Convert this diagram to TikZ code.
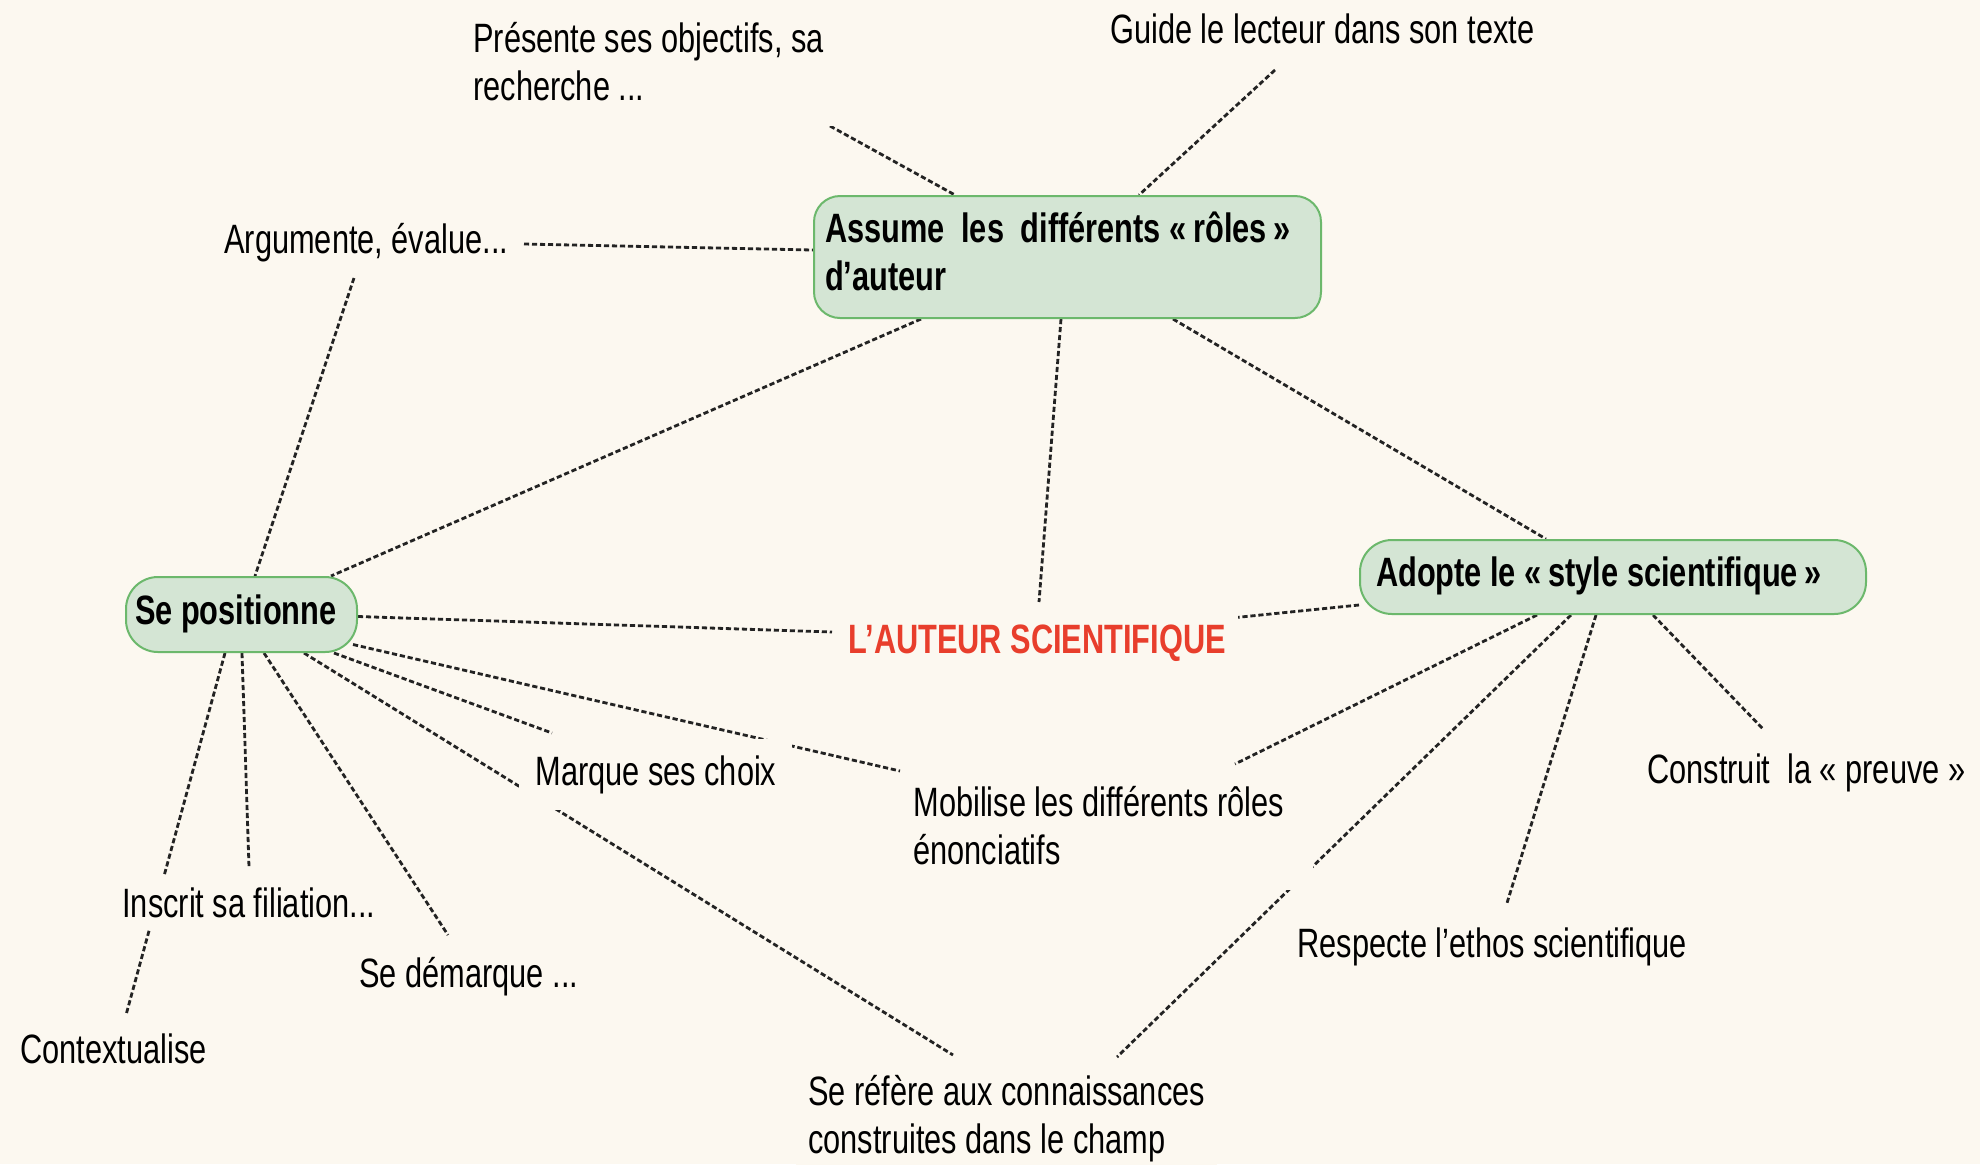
\documentclass[tikz,border=0pt]{standalone}
\usepackage{fontspec}
\setmainfont{Liberation Sans}[FakeStretch=0.75]
\usetikzlibrary{backgrounds}
\definecolor{bgc}{RGB}{252,248,240}
\definecolor{boxfill}{RGB}{212,229,212}
\definecolor{boxdraw}{RGB}{108,184,108}
\definecolor{titlered}{RGB}{232,62,44}
\definecolor{linec}{RGB}{35,35,35}
\newcommand\twolines[2]{\begin{tabular}[t]{@{}l@{}}#1\\#2\end{tabular}}
\begin{document}
\begin{tikzpicture}[x=0.5pt,y=-0.5pt,
  every node/.style={font=\fontsize{20.5}{24}\selectfont},
  box/.style={draw=boxdraw, fill=boxfill, line width=1pt, inner ysep=0pt,
    font=\fontsize{20.5}{24}\selectfont\bfseries},
  lbl/.style={fill=bgc, inner sep=6pt, anchor=base west},
  conn/.style={draw=linec, line width=1.4pt, dash pattern=on 2.6pt off 1.4pt}]
\useasboundingbox (0,0) rectangle (1980,1164);

% main boxes
\node[box, minimum width=253.5pt, minimum height=61pt, inner xsep=5.5pt, rounded corners=13pt]
  (assume) at (1067.5,257) {\makebox[242.5pt][l]{\twolines{Assume\hspace{0.2em} les\hspace{0.2em} différents «\,rôles\,»}{d'auteur}}};
\node[box, minimum width=115.5pt, minimum height=37.5pt, inner xsep=4.5pt, rounded corners=16pt]
  (pos) at (241.5,614.5) {\makebox[106.5pt][l]{\strut Se positionne}};
\node[box, minimum width=253pt, minimum height=37pt, inner xsep=8pt, rounded corners=16pt]
  (adopte) at (1613,577) {\makebox[237pt][l]{\strut Adopte le «\,style scientifique\,»}};

% centre title
\node[lbl, text=titlered, font=\fontsize{20.5}{24}\selectfont\bfseries] (auteur) at (836,653) {L'AUTEUR SCIENTIFIQUE};

% labels
\node[lbl] (presente) at (461,52) {\twolines{Présente ses objectifs, sa}{recherche ...}};
\node[lbl] (guide) at (1098,43) {Guide le lecteur dans son texte};
\node[lbl] (argumente) at (212,253) {Argumente, évalue...};
\node[lbl, inner sep=8pt] (marque) at (519,785) {Marque ses choix};
\node[lbl] (mobilise) at (901,816) {\makebox[194pt][l]{\twolines{Mobilise les différents rôles}{énonciatifs}}};
\node[lbl] (construit) at (1635,783) {Construit\ \ la « preuve »};
\node[lbl] (inscrit) at (110,917) {Inscrit sa filiation...};
\node[lbl] (demarque) at (347,987) {Se démarque ...};
\node[lbl] (context) at (8,1063) {Contextualise};
\node[lbl] (respecte) at (1285,957) {Respecte l'ethos scientifique};
\node[lbl] (refere) at (796,1105) {\twolines{Se réfère aux connaissances}{construites dans le champ}};

% free ends of connectors
\coordinate (pres-c) at (830,126);
\coordinate (guide-c) at (1275,70);
\coordinate (arg-c1) at (524,244);
\coordinate (arg-c2) at (354,278);
\coordinate (aut-n) at (1039,602);
\coordinate (aut-w) at (832,632);
\coordinate (aut-e) at (1231,618);
\coordinate (marque-c) at (552,733);
\coordinate (mob-c1) at (900,771);
\coordinate (mob-c2) at (1235,764);
\coordinate (ref-c1) at (953,1055);
\coordinate (ref-c2) at (1117,1057);
\coordinate (dem-c) at (448,935);
\coordinate (ins-c) at (249,867);
\coordinate (ctx-c) at (126,1015);
\coordinate (resp-c) at (1507,903);
\coordinate (cons-c) at (1764,730);

\begin{scope}[on background layer]
\fill[bgc] (0,0) rectangle (1980,1164);
% around "Assume"
\draw[conn] (pres-c) -- ([xshift=71pt]assume.north west);
\draw[conn] (guide-c) -- ([xshift=163pt]assume.north west);
\draw[conn] (arg-c1) -- ([yshift=3.5pt]assume.west);
\draw[conn] ([xshift=54pt]assume.south west) -- ([xshift=103pt]pos.north west);
\draw[conn] ([xshift=124pt]assume.south west) -- (aut-n);
\draw[conn] ([xshift=180pt]assume.south west) -- ([xshift=93.5pt]adopte.north west);
% around "Se positionne"
\draw[conn] (arg-c2) -- ([xshift=65pt]pos.north west);
\draw[conn] ([yshift=-1pt]pos.east) -- (aut-w);
\draw[conn] ([xshift=104.5pt]pos.south west) -- (marque-c);
\draw[conn] ([xshift=-2.5pt,yshift=-15pt]pos.east) -- (mob-c1);
\draw[conn] ([xshift=89.5pt]pos.south west) -- (ref-c1);
\draw[conn] ([xshift=69.5pt]pos.south west) -- (dem-c);
\draw[conn] ([xshift=58.5pt]pos.south west) -- (ins-c);
\draw[conn] ([xshift=50pt]pos.south west) -- (ctx-c);
% around "Adopte"
\draw[conn] ([yshift=-14pt]adopte.west) -- (aut-e);
\draw[conn] ([xshift=89pt]adopte.south west) -- (mob-c2);
\draw[conn] ([xshift=106pt]adopte.south west) -- (ref-c2);
\draw[conn] ([xshift=118.5pt]adopte.south west) -- (resp-c);
\draw[conn] ([xshift=147pt]adopte.south west) -- (cons-c);
\end{scope}
\end{tikzpicture}
\end{document}
